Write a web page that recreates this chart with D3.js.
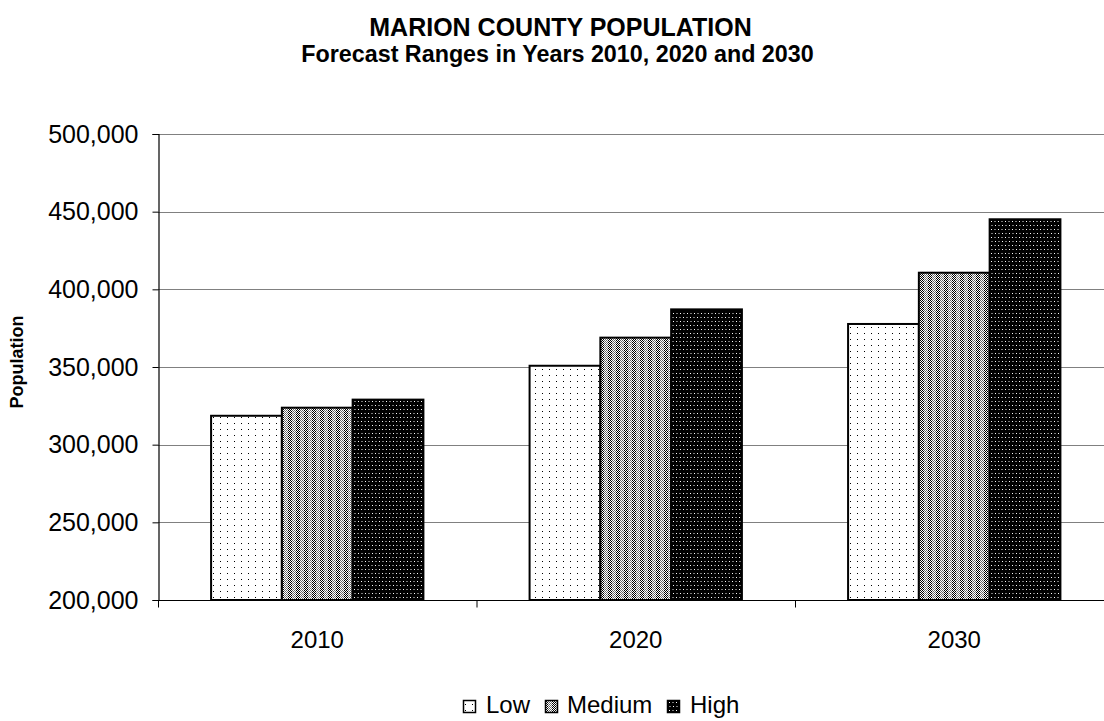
<!DOCTYPE html>
<html><head><meta charset="utf-8">
<script src="https://cdn.jsdelivr.net/npm/d3@7"></script>
<style>
html,body{margin:0;padding:0;background:#fff;overflow:hidden}
text{font-family:"Liberation Sans",Arial,sans-serif}
</style></head>
<body>
<svg id="c" width="1104" height="721"></svg>
<script>
const categories = ["2010","2020","2030"];
const seriesNames = ["Low","Medium","High"];
const lowValues = [318600, 350800, 377700];
const mediumValues = [323800, 368900, 410700];
const highValues = [329000, 387100, 445100];
const yTicks = [200000,250000,300000,350000,400000,450000,500000];

const svg = d3.select("#c");
const defs = svg.append("defs");

// Patterns
const pLow = defs.append("pattern").attr("id","pLow").attr("patternUnits","userSpaceOnUse")
  .attr("width",7).attr("height",6);
pLow.append("rect").attr("width",7).attr("height",6).attr("fill","#fff");
pLow.append("rect").attr("x",3).attr("y",3).attr("width",1).attr("height",1).attr("fill","#000");

const pMed = defs.append("pattern").attr("id","pMed").attr("patternUnits","userSpaceOnUse")
  .attr("width",8).attr("height",2);
pMed.append("rect").attr("width",8).attr("height",2).attr("fill","#fff");
[[0,0],[2,0],[1,1],[3,1]].forEach(([x,y])=>pMed.append("rect").attr("x",x).attr("y",y).attr("width",1).attr("height",1).attr("fill","#000"));
[[4,0],[6,0],[5,1],[7,1]].forEach(([x,y])=>pMed.append("rect").attr("x",x).attr("y",y).attr("width",1).attr("height",1).attr("fill","#6a6a6a"));

const pHigh = defs.append("pattern").attr("id","pHigh").attr("patternUnits","userSpaceOnUse")
  .attr("width",7).attr("height",8);
pHigh.append("rect").attr("width",7).attr("height",8).attr("fill","#000");
pHigh.append("rect").attr("x",1).attr("y",1).attr("width",1).attr("height",1).attr("fill","#fff");
pHigh.append("rect").attr("x",4).attr("y",5).attr("width",1).attr("height",1).attr("fill","#fff");
pHigh.append("rect").attr("x",4).attr("y",1).attr("width",2).attr("height",1).attr("fill","#777");
pHigh.append("rect").attr("x",0).attr("y",5).attr("width",2).attr("height",1).attr("fill","#777");

const fills = ["url(#pLow)","url(#pMed)","url(#pHigh)"];
const seriesData = [lowValues, mediumValues, highValues];

const pL = 158, pR = 1113.5, pT = 134, pB = 600;

const x0 = d3.scaleBand().domain(categories).range([pL,pR]).paddingInner(0).paddingOuter(0);
const y = d3.scaleLinear().domain([200000,500000]).range([pB,pT]);

// Gridlines
svg.append("g").selectAll("line").data(yTicks.slice(1)).join("line")
  .attr("x1",pL).attr("x2",pR)
  .attr("y1",d=>Math.round(y(d))+0.5).attr("y2",d=>Math.round(y(d))+0.5)
  .attr("stroke","#808080").attr("stroke-width",1);

// Bars
const bw = x0.bandwidth();
const barW = bw/4.5;
const x1 = d3.scaleBand().domain(seriesNames).range([0.75*barW, 3.75*barW]).padding(0);

const g = svg.append("g");
seriesNames.forEach((s,si)=>{
  g.selectAll(".b"+si).data(categories).join("rect")
    .attr("x",(c)=>x0(c)+x1(s))
    .attr("width",x1.bandwidth())
    .attr("y",(c,i)=>y(seriesData[si][i]))
    .attr("height",(c,i)=>pB-y(seriesData[si][i]))
    .attr("fill",fills[si]).attr("stroke","#000").attr("stroke-width",2);
});

// Y axis
const yAxis = d3.axisLeft(y).tickValues(yTicks).tickSize(6).tickPadding(14)
  .tickFormat(d3.format(","));
const ya = svg.append("g").attr("transform",`translate(${pL+0.5},0)`).call(yAxis);
ya.select(".domain").attr("stroke","#000").attr("stroke-width",1.2);
ya.selectAll(".tick line").attr("stroke","#000");
ya.selectAll("text").attr("font-size",25).attr("fill","#000")
  .style("font-family","'Liberation Sans',Arial,sans-serif");

// X axis
const xa = svg.append("g").attr("transform",`translate(0,${pB+0.5})`);
xa.append("line").attr("x1",pL).attr("x2",pR).attr("stroke","#000").attr("stroke-width",1.2);
xa.selectAll(".ct").data(categories).join("line")
  .attr("x1",d=>x0(d)+0.5).attr("x2",d=>x0(d)+0.5).attr("y1",0).attr("y2",7).attr("stroke","#000");
xa.selectAll(".cl").data(categories).join("text")
  .attr("x",d=>x0(d)+bw/2).attr("y",47).attr("text-anchor","middle")
  .attr("font-size",24).attr("fill","#000").text(d=>d);

// Titles
svg.append("text").attr("x",560.5).attr("y",36).attr("text-anchor","middle")
  .attr("font-size",25).attr("font-weight","bold").text("MARION COUNTY POPULATION");
svg.append("text").attr("x",557.5).attr("y",62).attr("text-anchor","middle")
  .attr("font-size",23.3).attr("font-weight","bold").text("Forecast Ranges in Years 2010, 2020 and 2030");

svg.append("text").attr("transform","translate(23,362) rotate(-90)").attr("text-anchor","middle")
  .attr("font-size",18).attr("font-weight","bold").text("Population");

// Legend
const legend = svg.append("g").attr("transform","translate(0,713)");
const items = [{sx:463,tx:486},{sx:545,tx:567},{sx:667,tx:690}];
items.forEach((it,i)=>{
  legend.append("rect").attr("x",it.sx+0.5).attr("y",-12.5).attr("width",12).attr("height",12)
    .attr("fill",fills[i]).attr("stroke","#000").attr("stroke-width",1.5);
  legend.append("text").attr("x",it.tx).attr("y",0).attr("font-size",24).text(seriesNames[i]);
});
</script>
</body></html>
